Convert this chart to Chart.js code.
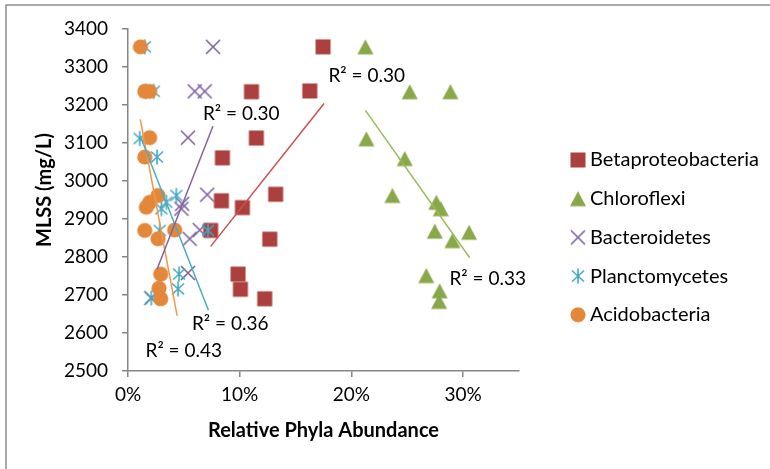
<!DOCTYPE html>
<html>
<head>
<meta charset="utf-8">
<script src="https://cdn.jsdelivr.net/npm/chart.js@4/dist/chart.umd.min.js"></script>
<style>
  body { margin: 0; background: #fff; }
  canvas { display: block; }
</style>
</head>
<body>
<canvas id="myChart" width="770" height="469"></canvas>
<script>
// Series names (legend order)
const seriesNames = ['Betaproteobacteria', 'Chloroflexi', 'Bacteroidetes', 'Planctomycetes', 'Acidobacteria'];

// Relative abundance (%) and MLSS (mg/L)
const betaX = [17.46, 11.05, 16.27, 11.49, 8.45, 13.22, 8.36, 10.24, 7.40, 12.69, 9.85, 10.06, 12.24];
const betaY = [3353, 3235, 3237, 3113, 3061, 2965, 2948, 2930, 2870, 2847, 2755, 2715, 2690];

const chloroX = [21.25, 25.22, 28.86, 21.34, 24.77, 23.67, 27.6, 28.0, 27.46, 30.53, 29.04, 26.7, 27.9, 27.85];
const chloroY = [3353, 3235, 3235, 3111, 3059, 2962, 2944, 2927, 2868, 2865, 2843, 2751, 2711, 2683];

const bactX = [7.61, 5.97, 6.87, 5.37, 7.09, 4.85, 4.78, 6.42, 5.52, 5.37, 2.09];
const bactY = [3353, 3236, 3236, 3114, 2964, 2940, 2927, 2871, 2848, 2758, 2692];

const planctoX = [1.5, 1.6, 2.3, 1.05, 2.6, 4.33, 3.44, 2.99, 2.84, 7.16, 4.57, 4.48, 2.09];
const planctoY = [3353, 3236, 3236, 3112, 3063, 2962, 2944, 2927, 2870, 2870, 2755, 2716, 2692];

const acidoX = [1.11, 1.5, 1.94, 1.94, 1.5, 2.69, 1.94, 1.64, 1.5, 4.18, 2.69, 2.93, 2.78, 2.93];
const acidoY = [3353, 3236, 3236, 3114, 3063, 2962, 2944, 2931, 2870, 2871, 2848, 2755, 2718, 2690];

// Linear trendline end points [x, y]
const betaTrend = [[7.40, 2828], [17.55, 3204]];
const chloroTrend = [[21.25, 3186], [30.59, 2798]];
const bactTrend = [[2.6, 2768], [7.6, 3144]];
const planctoTrend = [[1.1, 3118], [7.2, 2660]];
const acidoTrend = [[1.1, 3162], [4.4, 2645]];

// R² labels: text and anchor in data units
const r2Text = ['R² = 0.30', 'R² = 0.33', 'R² = 0.30', 'R² = 0.36', 'R² = 0.43'];
const r2X = [21.37, 32.2, 10.13, 9.15, 4.99];
const r2Y = [3276, 2743, 3176, 2624, 2553];

// Axis ticks
const xTicks = [0, 10, 20, 30];
const yTicks = [2500, 2600, 2700, 2800, 2900, 3000, 3100, 3200, 3300, 3400];

const markColors = ['#AB403E', '#88A849', '#7F62A1', '#41A8C3', '#E3883A'];
const lineColors = ['#CD504C', '#9BBB59', '#8064A2', '#4BACC6', '#F79646'];

// marker images
function makeMarker(kind, color) {
  const c = document.createElement('canvas');
  c.width = 18; c.height = 18;
  const g = c.getContext('2d');
  g.fillStyle = color;
  g.strokeStyle = color;
  g.lineWidth = 1.6;
  if (kind === 'square') {
    g.fillRect(1.5, 1.5, 15, 15);
  } else if (kind === 'triangle') {
    g.beginPath();
    g.moveTo(9, 1.5); g.lineTo(17, 16.5); g.lineTo(1, 16.5);
    g.closePath(); g.fill();
  } else if (kind === 'x') {
    g.beginPath();
    g.moveTo(2, 2); g.lineTo(16, 16);
    g.moveTo(16, 2); g.lineTo(2, 16);
    g.stroke();
  } else if (kind === 'star') {
    g.beginPath();
    g.moveTo(3, 3.5); g.lineTo(15, 14.5);
    g.moveTo(15, 3.5); g.lineTo(3, 14.5);
    g.moveTo(9, 1.5); g.lineTo(9, 16.5);
    g.stroke();
  } else {
    g.beginPath();
    g.arc(9, 9, 7.6, 0, Math.PI * 2);
    g.fill();
  }
  return c;
}
const markers = [
  makeMarker('square', markColors[0]),
  makeMarker('triangle', markColors[1]),
  makeMarker('x', markColors[2]),
  makeMarker('star', markColors[3]),
  makeMarker('circle', markColors[4])
];

const xs = [betaX, chloroX, bactX, planctoX, acidoX];
const ys = [betaY, chloroY, bactY, planctoY, acidoY];
const trends = [betaTrend, chloroTrend, bactTrend, planctoTrend, acidoTrend];

const datasets = [];
seriesNames.forEach((name, i) => {
  datasets.push({
    label: name,
    data: xs[i].map((x, j) => ({ x: x, y: ys[i][j] })),
    pointStyle: markers[i],
    pointRadius: 9,
    showLine: false,
    order: 5 - i + 1,
    clip: false
  });
  datasets.push({
    label: name + ' trend',
    data: trends[i].map(p => ({ x: p[0], y: p[1] })),
    showLine: true,
    borderColor: lineColors[i],
    borderWidth: 1.5,
    pointRadius: 0,
    order: 0
  });
});

const fontFamily = 'Lato, "Open Sans", sans-serif';
Chart.defaults.font.family = fontFamily;
Chart.defaults.color = '#000';

const extras = {
  id: 'extras',
  beforeDraw(chart) {
    const c = chart.ctx;
    c.save();
    c.fillStyle = '#fff';
    c.fillRect(0, 0, chart.width, chart.height);
    c.strokeStyle = '#8e8e8e';
    c.lineWidth = 1.5;
    c.strokeRect(6, 5, chart.width + 10, chart.height + 10);
    c.restore();
  },
  afterDraw(chart) {
    const c = chart.ctx;
    const sx = chart.scales.x, sy = chart.scales.y;
    c.save();
    // R² labels
    c.font = '19px ' + fontFamily;
    c.fillStyle = '#000';
    c.textAlign = 'center';
    c.textBaseline = 'middle';
    r2Text.forEach((t, i) => {
      c.fillText(t, sx.getPixelForValue(r2X[i]), sy.getPixelForValue(r2Y[i]));
    });
    // y title
    c.font = 'bold 20px ' + fontFamily;
    c.translate(45, (chart.chartArea.top + chart.chartArea.bottom) / 2 - 10);
    c.rotate(-Math.PI / 2);
    c.fillText('MLSS (mg/L)', 0, 0);
    c.restore();
    // legend
    c.save();
    c.font = '20px ' + fontFamily;
    c.textAlign = 'left';
    c.textBaseline = 'middle';
    c.fillStyle = '#000';
    const lx = chart.chartArea.right + 59;
    const ly0 = 160;
    seriesNames.forEach((name, i) => {
      const y = ly0 + i * 38.7;
      c.drawImage(markers[i], lx - 9, y - 9);
      c.fillText(name, lx + 12, y);
    });
    c.restore();
  }
};

const ctx = document.getElementById('myChart').getContext('2d');
const chart = new Chart(ctx, {
  type: 'scatter',
  data: { datasets: datasets },
  options: {
    responsive: false,
    animation: false,
    devicePixelRatio: 1,
    layout: { padding: { top: 29, right: 251, left: 0, bottom: 0 } },
    scales: {
      x: {
        type: 'linear',
        min: 0,
        max: 35,
        afterFit: s => { s.height = 98; },
        afterBuildTicks: s => { s.ticks = xTicks.map(v => ({ value: v })); },
        ticks: {
          padding: 6,
          font: { size: 19 },
          callback: v => v + '%'
        },
        grid: { drawOnChartArea: false, drawTicks: true, tickLength: 6, color: '#868686', lineWidth: 1.5 },
        border: { display: true, color: '#868686', width: 1.5 },
        title: {
          display: true,
          text: 'Relative Phyla Abundance',
          font: { size: 20, weight: 'bold' },
          padding: { top: 0, bottom: 26 }
        }
      },
      y: {
        type: 'linear',
        min: 2500,
        max: 3400,
        afterFit: s => { s.width = 128; },
        afterBuildTicks: s => { s.ticks = yTicks.map(v => ({ value: v })); },
        ticks: { padding: 14, font: { size: 19 }, callback: v => String(v) },
        grid: { drawOnChartArea: false, drawTicks: true, tickLength: 6, color: '#868686', lineWidth: 1.5 },
        border: { display: true, color: '#868686', width: 1.5 }
      }
    },
    plugins: {
      legend: { display: false },
      tooltip: { enabled: false }
    }
  },
  plugins: [extras]
});
</script>
</body>
</html>
